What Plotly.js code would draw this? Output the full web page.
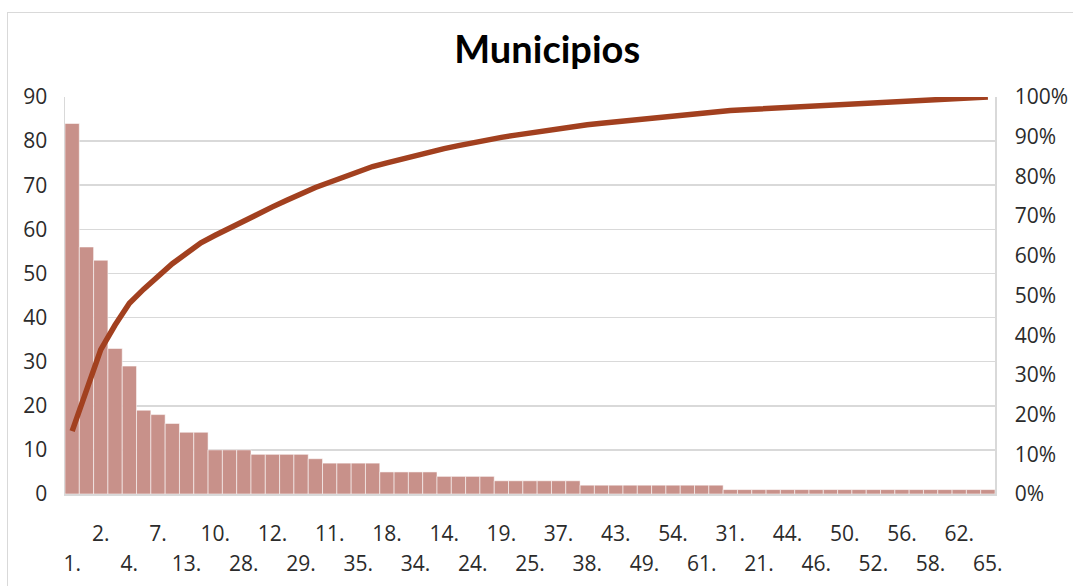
<!DOCTYPE html>
<html>
<head>
<meta charset="utf-8">
<script src="https://cdn.plot.ly/plotly-3.0.1.min.js"></script>
<style>
  html, body { margin: 0; padding: 0; background: #fff; }
  #wrap { position: relative; width: 1073px; height: 586px; }
  #frame { position: absolute; left: 7px; top: 12px; width: 1080px; height: 600px;
           border-left: 1px solid #d9d9d9; border-top: 1px solid #d9d9d9; box-sizing: border-box; }
  #chart { position: absolute; left: 0; top: 0; width: 1073px; height: 586px; }
</style>
</head>
<body>
<div id="wrap">
  <div id="frame"></div>
  <div id="chart"></div>
</div>
<script>
// Municipality labels, sorted by count (descending)
const categories = [
  "1.","3.","2.","5.","4.","6.","7.","8.","13.","9.",
  "10.","15.","28.","17.","12.","20.","29.","26.","11.","33.",
  "35.","39.","18.","23.","34.","36.","14.","16.","24.","27.",
  "19.","22.","25.","30.","37.","41.","38.","40.","43.","47.",
  "49.","53.","54.","59.","61.","63.","31.","32.","21.","42.",
  "44.","45.","46.","48.","50.","51.","52.","55.","56.","57.",
  "58.","60.","62.","64.","65."
];
// Counts per municipality
const counts = [
  84,56,53,33,29,19,18,16,14,14,
  10,10,10,9,9,9,9,8,7,7,
  7,7,5,5,5,5,4,4,4,4,
  3,3,3,3,3,3,2,2,2,2,
  2,2,2,2,2,2,1,1,1,1,
  1,1,1,1,1,1,1,1,1,1,
  1,1,1,1,1
];

const total = counts.reduce((a, b) => a + b, 0);
let run = 0;
const cumulative = counts.map(v => { run += v; return run / total; });

// Excel shows every other label, staggered on two rows
const upperVals = [], lowerVals = [];
categories.forEach((c, i) => {
  if (i % 2 === 0) {
    if ((i / 2) % 2 === 1) upperVals.push(c); else lowerVals.push(c);
  }
});

const tickFont = { family: "Open Sans, sans-serif", size: 21, color: "#2b2b2b" };

const traces = [
  {
    type: "bar", x: categories, y: counts, xaxis: "x", yaxis: "y",
    marker: { color: "#C8918A", line: { color: "rgba(255,255,255,0.55)", width: 1 } },
    hoverinfo: "x+y"
  },
  {
    type: "scatter", mode: "lines", x: categories, y: cumulative, xaxis: "x2", yaxis: "y2",
    line: { color: "#A2401F", width: 5.5 }
  }
];

const layout = {
  width: 1073, height: 586,
  margin: { l: 65, r: 78, t: 97, b: 92 },
  paper_bgcolor: "rgba(0,0,0,0)", plot_bgcolor: "#ffffff",
  showlegend: false, bargap: 0,
  title: {
    text: "<b>Municipios</b>",
    font: { family: "Lato, sans-serif", size: 38, color: "#000000" },
    x: 0.51, xref: "container", xanchor: "center",
    y: 0.916, yref: "container", yanchor: "middle"
  },
  xaxis: {
    type: "category", tickmode: "array", tickvals: upperVals, ticktext: upperVals,
    tickangle: 0, ticks: "", tickfont: tickFont, ticklabelstandoff: 20,
    showline: true, linecolor: "#d9d9d9", linewidth: 1.5, showgrid: false, zeroline: false
  },
  xaxis2: {
    type: "category", overlaying: "x", matches: "x", anchor: "y2", side: "bottom",
    tickmode: "array", tickvals: lowerVals, ticktext: lowerVals,
    tickangle: 0, ticks: "", tickfont: tickFont, ticklabelstandoff: 55,
    showline: false, showgrid: false, zeroline: false
  },
  yaxis: {
    range: [0, 90], dtick: 10, tickfont: tickFont, ticks: "", ticklabelstandoff: 12,
    showgrid: true, gridcolor: "#d9d9d9", gridwidth: 1.5,
    showline: true, linecolor: "#d9d9d9", linewidth: 1.5, zeroline: false
  },
  yaxis2: {
    range: [0, 1], dtick: 0.1, tickformat: ".0%", overlaying: "y", side: "right",
    tickfont: tickFont, ticks: "", ticklabelstandoff: 14,
    showgrid: false, showline: true, linecolor: "#d9d9d9", linewidth: 1.5, zeroline: false
  }
};

Plotly.newPlot("chart", traces, layout, { displayModeBar: false, staticPlot: true });
</script>
</body>
</html>
